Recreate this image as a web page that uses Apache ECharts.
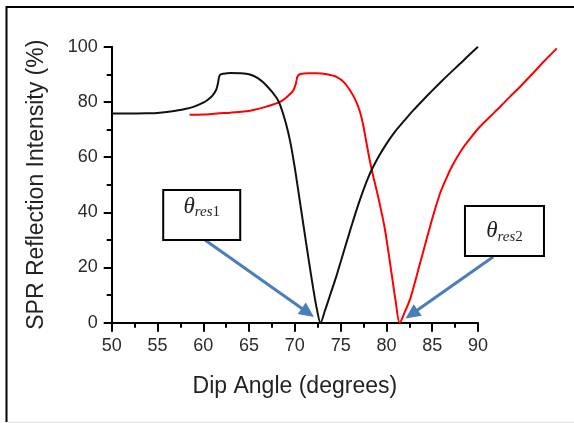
<!DOCTYPE html>
<html>
<head>
<meta charset="utf-8">
<script src="https://cdn.jsdelivr.net/npm/echarts@6/dist/echarts.min.js"></script>
<style>
html, body { margin: 0; padding: 0; background: #fff; }
#chart { width: 574px; height: 423px; }
</style>
</head>
<body>
<div id="chart"></div>
<script>
// curve 1 (black)
var blackAngle = [50, 52, 54, 55, 56, 57, 58, 59, 60, 60.5, 61, 61.4, 61.6, 61.8, 62.2, 63, 64, 65, 66, 67, 68, 68.4, 69, 69.5, 70, 70.5, 71, 71.5, 72, 72.4, 72.8,
	73.3, 73.8, 74.5, 75, 76, 77, 78, 79, 80, 81, 82, 83, 84, 85, 86, 87, 88, 89, 90];
var blackValue = [75.8, 75.8, 75.9, 76, 76.3, 76.8, 77.4, 78.3, 79.7, 80.8, 82.3, 84.3, 86.7, 89.7, 90.2, 90.5, 90.4, 90.0, 88.5, 85.6, 81.5, 78.8, 72.5, 65.5, 56, 45, 34, 23, 12.5, 5, 0,
	4.5, 9.5, 16.5, 22, 33, 43.5, 52.5, 59.3, 64.8, 69.5, 73.4, 77.2, 80.7, 84.1, 87.4, 90.6, 93.7, 96.9, 100];
// curve 2 (red), runs past the end of the drawn axis
var redAngle = [58.5, 60, 61.5, 63, 64.4, 65.5, 66.9, 68.4, 69.2, 69.8, 70.1, 70.3, 70.6, 71.5, 72.4, 73.5, 74.6, 75.4, 76, 76.6, 77.1, 77.5, 77.8, 78.2, 78.6, 79, 79.4, 79.8, 80.2, 80.6, 81, 81.45,
	82, 82.6, 83.1, 83.67, 84.2, 84.76, 85.3, 85.86, 86.5, 87.13, 88.2, 89.2, 90.2, 91.3, 92.5, 93.5, 94.6, 96, 97.3, 98.6];
var redValue = [75.3, 75.4, 75.8, 76.1, 76.5, 77.1, 78.3, 80.0, 82, 84, 86.5, 89.3, 90.1, 90.4, 90.4, 90, 89, 87, 84.3, 80.8, 76.5, 71, 65.5, 58.5, 52.5, 47, 41, 34.5, 26, 17, 8, 0,
	3.8, 8.7, 14.5, 21.5, 28, 34.8, 41, 46.9, 52, 56.5, 62.6, 67, 71, 74.6, 78.5, 81.9, 85.5, 90.4, 95, 99.4];

var xLabels = [50, 55, 60, 65, 70, 75, 80, 85, 90];
var yLabels = [0, 20, 40, 60, 80, 100];

// annotations, in data units
var noteIndex = ['1', '2'];
var noteBoxAt = [[59.83, 39.0], [92.89, 33.2]];
var noteArrowFrom = [[60.19, 29.96], [91.67, 23.9]];
var noteArrowTo = [[72.09, 2.07], [82.08, 1.5]];

function zip(a, b) {
	return a.map(function (v, i) { return [v, b[i]]; });
}

var chart = echarts.init(document.getElementById('chart'));
var labelFont = 'Liberation Sans, Arial, Helvetica, sans-serif';

var xMin = xLabels[0], xMax = xLabels[xLabels.length - 1];
var plotLeft = 111.7, plotRight = 96;
var pxPerDeg = (574 - plotLeft - plotRight) / (xMax - xMin);
var xMaxWide = 100; // hidden axis, same scale, so the red curve can run on past 90
var wideRight = 574 - plotLeft - pxPerDeg * (xMaxWide - xMin);

option = {
	backgroundColor: '#fff',
	animation: false,
	grid: [{
		left: plotLeft,
		right: plotRight,
		top: 46.7,
		bottom: 100.3
	}, {
		left: plotLeft,
		right: wideRight,
		top: 46.7,
		bottom: 100.3
	}],
	xAxis: [{
		type: 'value',
		gridIndex: 0,
		min: xMin,
		max: xMax,
		interval: xLabels[1] - xLabels[0],
		name: 'Dip Angle (degrees)',
		nameLocation: 'middle',
		nameGap: 52,
		nameTextStyle: { color: '#222', fontSize: 23, fontFamily: labelFont },
		axisLine: { show: true, lineStyle: { color: '#000', width: 2 } },
		axisTick: { show: true, length: 9, lineStyle: { color: '#000', width: 2 } },
		minorTick: { show: true, splitNumber: 2, length: 5, lineStyle: { color: '#000', width: 2 } },
		splitLine: { show: false },
		axisLabel: { color: '#2a2a2a', fontSize: 18, fontFamily: labelFont, margin: 14 }
	}, {
		type: 'value',
		gridIndex: 1,
		min: xMin,
		max: xMaxWide,
		show: false
	}],
	yAxis: [{
		type: 'value',
		gridIndex: 0,
		min: yLabels[0],
		max: yLabels[yLabels.length - 1],
		interval: yLabels[1] - yLabels[0],
		name: 'SPR Reflection Intensity (%)',
		nameLocation: 'middle',
		nameRotate: 90,
		nameGap: 64,
		nameTextStyle: { color: '#222', fontSize: 23, fontFamily: labelFont },
		axisLine: { show: true, lineStyle: { color: '#000', width: 2 } },
		axisTick: { show: true, length: 8, lineStyle: { color: '#000', width: 2 } },
		minorTick: { show: true, splitNumber: 2, length: 5, lineStyle: { color: '#000', width: 2 } },
		splitLine: { show: false },
		axisLabel: { color: '#2a2a2a', fontSize: 18, fontFamily: labelFont, margin: 14 }
	}, {
		type: 'value',
		gridIndex: 1,
		min: yLabels[0],
		max: yLabels[yLabels.length - 1],
		show: false
	}],
	series: [{
		name: 'res1',
		type: 'line',
		xAxisIndex: 0,
		yAxisIndex: 0,
		data: zip(blackAngle, blackValue),
		showSymbol: false,
		smooth: 0.3,
		clip: false,
		z: 3,
		lineStyle: { color: '#111', width: 2 }
	}, {
		name: 'res2',
		type: 'line',
		xAxisIndex: 1,
		yAxisIndex: 1,
		data: zip(redAngle, redValue),
		showSymbol: false,
		smooth: 0.3,
		clip: false,
		z: 2,
		lineStyle: { color: '#ff0000', width: 2 }
	}]
};
chart.setOption(option);

// frame + boxes + arrows
var g = [
	{ type: 'line', shape: { x1: 6, y1: 7, x2: 574, y2: 7 }, style: { stroke: '#000', lineWidth: 2 } },
	{ type: 'line', shape: { x1: 6.5, y1: 6, x2: 6.5, y2: 422 }, style: { stroke: '#000', lineWidth: 2 } },
	{ type: 'line', shape: { x1: 8, y1: 422.5, x2: 574, y2: 422.5 }, style: { stroke: '#e4e4e4', lineWidth: 1.5 } }
];
var boxW = [77, 79], boxH = 50, textShift = [-8, 0];
var blue = '#4a7ebb';
for (var i = 0; i < noteIndex.length; i++) {
	var c = chart.convertToPixel({ gridIndex: 1 }, noteBoxAt[i]);
	var a = chart.convertToPixel({ gridIndex: 1 }, noteArrowFrom[i]);
	var b = chart.convertToPixel({ gridIndex: 1 }, noteArrowTo[i]);
	var dx = b[0] - a[0], dy = b[1] - a[1];
	var len = Math.sqrt(dx * dx + dy * dy);
	var ux = dx / len, uy = dy / len;
	var hl = 15, hw = 7;
	var bx = b[0] - ux * hl, by = b[1] - uy * hl;
	g.push({
		type: 'line', z: 20,
		shape: { x1: a[0], y1: a[1], x2: bx + ux * 2, y2: by + uy * 2 },
		style: { stroke: blue, lineWidth: 3 }
	});
	g.push({
		type: 'polygon', z: 20,
		shape: { points: [[b[0], b[1]], [bx - uy * hw, by + ux * hw], [bx + uy * hw, by - ux * hw]] },
		style: { fill: blue }
	});
	g.push({
		type: 'rect', z: 21,
		shape: { x: c[0] - boxW[i] / 2, y: c[1] - boxH / 2, width: boxW[i], height: boxH },
		style: { fill: '#fff', stroke: '#000', lineWidth: 2 }
	});
	g.push({
		type: 'text', z: 22,
		x: c[0], y: c[1] + textShift[i],
		style: {
			text: '{t|θ}{s|res}{n|' + noteIndex[i] + '}',
			align: 'center',
			verticalAlign: 'middle',
			rich: {
				t: { fontFamily: 'Liberation Serif, Times New Roman, serif', fontStyle: 'italic', fontSize: 23, fill: '#222' },
				s: { fontFamily: 'Liberation Serif, Times New Roman, serif', fontStyle: 'italic', fontSize: 15, fill: '#222', padding: [11, 0, 0, 0] },
				n: { fontFamily: 'Liberation Serif, Times New Roman, serif', fontSize: 15, fill: '#222', padding: [11, 0, 0, 0] }
			}
		}
	});
}
chart.setOption({ graphic: g });

window.addEventListener('resize', function () {
	chart.resize();
});
</script>
</body>
</html>
